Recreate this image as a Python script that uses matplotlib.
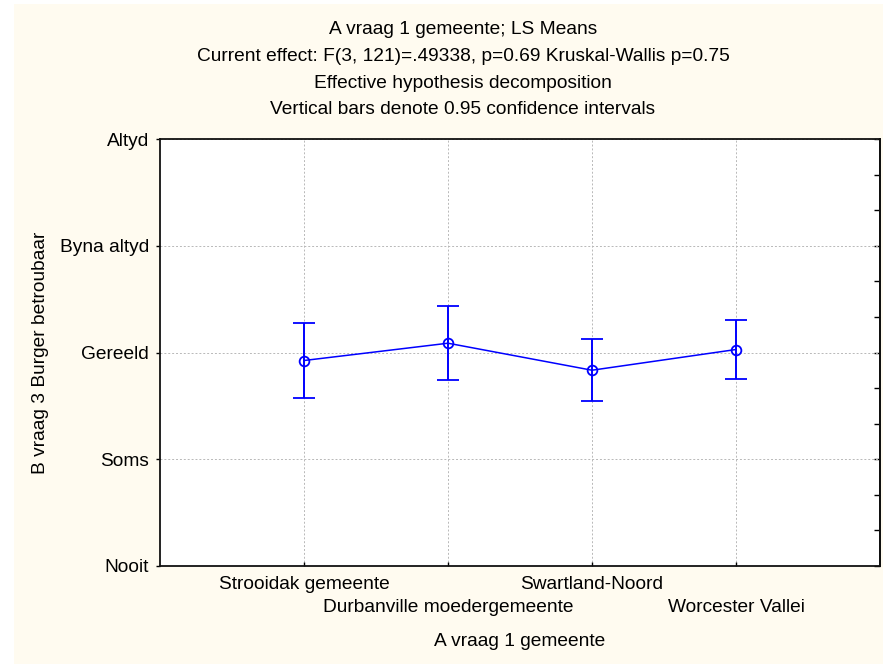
import numpy as np
import matplotlib
matplotlib.use("Agg")
import matplotlib.pyplot as plt
from matplotlib.patches import Rectangle

# ---- data ----
groups = ["Strooidak gemeente", "Durbanville moedergemeente",
          "Swartland-Noord", "Worcester Vallei"]
means = [2.925, 3.087, 2.834, 3.028]
ci_low = [2.578, 2.738, 2.547, 2.750]
ci_high = [3.272, 3.434, 3.128, 3.309]

y_levels = [1, 2, 3, 4, 5]
y_labels = ["Nooit", "Soms", "Gereeld", "Byna altyd", "Altyd"]

title_lines = [
    "A vraag 1 gemeente; LS Means",
    "Current effect: F(3, 121)=.49338, p=0.69 Kruskal-Wallis p=0.75",
    "Effective hypothesis decomposition",
    "Vertical bars denote 0.95 confidence intervals",
]
x_title = "A vraag 1 gemeente"
y_title = "B vraag 3 Burger betroubaar"

BG = "#fffbf0"
BLUE = "#0000ff"
FS = 13.8

plt.rcParams["font.family"] = ["Liberation Sans", "DejaVu Sans"]

W, H = 883, 664
fig = plt.figure(figsize=(W / 100, H / 100), dpi=100)
fig.patch.set_facecolor("white")
# cream panel with a thin white margin at top/left
fig.patches.append(Rectangle((14 / W, 0), 1 - 14 / W, 1 - 4 / H,
                             transform=fig.transFigure, facecolor=BG,
                             edgecolor="none", zorder=-10))

ax = fig.add_axes([160 / W, (H - 566) / H, (880 - 160) / W, (566 - 139) / H])
ax.set_facecolor("white")

x = np.arange(1, len(groups) + 1)
yerr = [np.array(means) - np.array(ci_low), np.array(ci_high) - np.array(means)]
ax.errorbar(x, means, yerr=yerr, color=BLUE, lw=1.1, elinewidth=1.4,
            capsize=8, capthick=1.4, marker="o", ms=7, mfc="none",
            mec=BLUE, mew=1.3, zorder=3)

ax.set_xlim(0, len(groups) + 1)
ax.set_ylim(1, 5)
ax.set_yticks(y_levels)
ax.set_yticklabels(y_labels, fontsize=FS)

# alternate category labels on two rows: odd ones as major, even ones as minor
ax.set_xticks(x[::2])
ax.set_xticklabels(groups[::2], fontsize=FS)
ax.set_xticks(x[1::2], minor=True)
ax.set_xticklabels(groups[1::2], minor=True, fontsize=FS)

ax.grid(True, which="both", axis="x", ls=(0, (2, 2)), color="#b8b8b8", lw=0.7)
ax.grid(True, axis="y", ls=(0, (2, 2)), color="#b8b8b8", lw=0.7)
ax.tick_params(axis="y", direction="out", length=3, width=1, pad=5)
ax.tick_params(axis="x", which="major", direction="in", length=3, width=1, pad=7)
ax.tick_params(axis="x", which="minor", direction="in", length=3, width=1, pad=23.5)
for s in ax.spines.values():
    s.set_linewidth(1.3)
    s.set_color("#111111")

# right side inward ticks
sec = ax.secondary_yaxis("right")
sec.set_yticks(np.arange(1, 5.01, 1 / 3))
sec.set_yticklabels([])
sec.tick_params(direction="in", length=4, width=1)
sec.spines["right"].set_linewidth(1.3)

ax.set_xlabel(x_title, fontsize=FS, labelpad=12.5)
ax.set_ylabel(y_title, fontsize=FS, labelpad=8)

for i, line in enumerate(title_lines):
    fig.text(463 / W, 1 - (30 + 26.5 * i) / H, line,
             ha="center", va="center", fontsize=FS)

fig.savefig("out.png", dpi=100, facecolor=fig.get_facecolor())
